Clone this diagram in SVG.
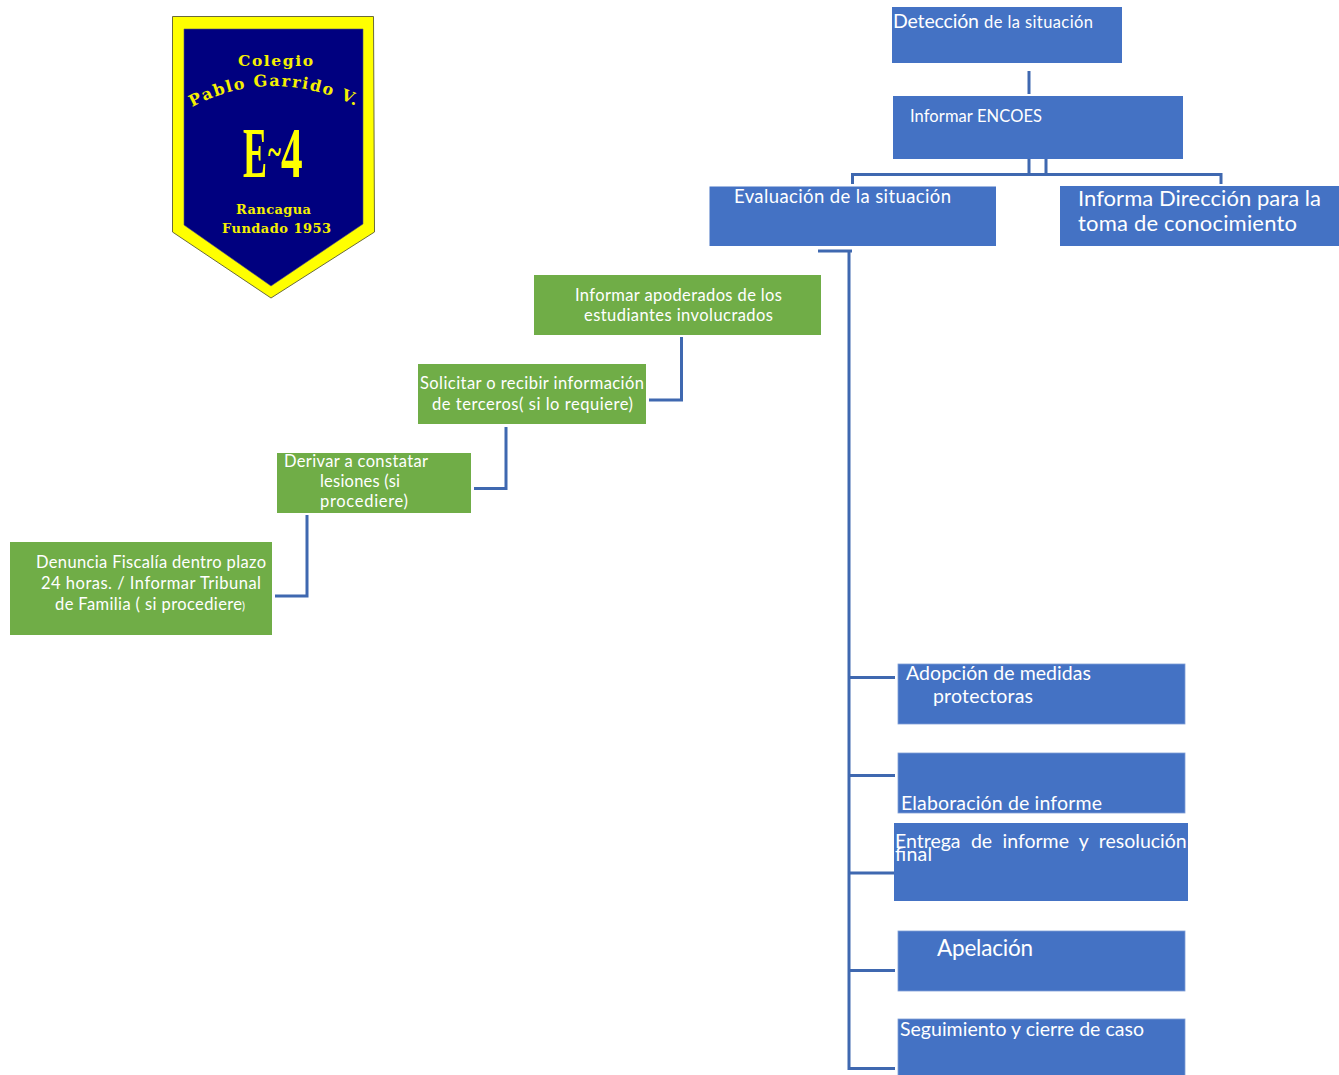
<svg xmlns="http://www.w3.org/2000/svg" width="1339" height="1075" viewBox="0 0 1339 1075">
<style>
.b{fill:#4472c4}.g{fill:#70ad47}
.e{stroke:#7f9fd6;stroke-width:0.8}
.edge{fill:none;stroke:#3f68b0;stroke-width:3}
text{font-family:Lato,"Open Sans","Liberation Sans",sans-serif;fill:#fff}
.s17{font-size:16.5px}.s19{font-size:18.5px}.s20{font-size:19.5px}.s22{font-size:22px}.s23{font-size:22.5px}
.l{font-family:"DejaVu Serif","Liberation Serif",serif;font-weight:bold;fill:#f5f000;font-size:13px}
.big{font-family:"Liberation Serif",serif;font-weight:bold;fill:#ffff00;font-size:72px}
</style>
<defs><path id="arc" d="M192,107 Q272,65 358,107"/></defs>
<rect width="1339" height="1075" fill="#fff"/>
<g id="logo">
<polygon points="172.500,16.500 373.500,16.500 374.500,232 271,298 172.500,232" fill="#ffff00" stroke="#6b6b3a" stroke-width="1"/>
<polygon points="184,29 363,29 363,224 271,286 184,225" fill="#00007f" stroke="#55557a" stroke-width="0.6"/>
<text class="l" x="238" y="66" textLength="75" style="font-size:15.500px">Colegio</text>
<text class="l" style="font-size:16px"><textPath href="#arc" textLength="170" lengthAdjust="spacing">Pablo Garrido V.</textPath></text>
<text class="big" transform="translate(243,177) scale(0.5,1)">E</text>
<text class="big" transform="translate(268,165) scale(0.62,1)" style="font-size:40px">~</text>
<text class="big" transform="translate(281,177) scale(0.6,1)">4</text>
<text class="l" x="236" y="214" textLength="75">Rancagua</text>
<text class="l" x="222" y="233" textLength="109">Fundado 1953</text>
</g>
<g id="connectors">
<path class="edge" d="M1029,71V94"/>
<path class="edge" d="M1029,159V174.500H1046V159"/>
<path class="edge" d="M852.500,184V174.500H1221V184"/>
<path class="edge" d="M818,251H852"/>
<path class="edge" d="M849,250V1068.500H895"/>
<path class="edge" d="M849,677.500H895M849,775.500H895M849,873H895M849,970.500H895"/>
<path class="edge" d="M681.500,337V400H649"/>
<path class="edge" d="M506,427V488.500H474"/>
<path class="edge" d="M307,515V596H275"/>
</g>
<g id="n-deteccion"><rect class="b" x="892" y="7" width="230" height="56"/>
<text x="893" y="28" class="s20" textLength="86">Detección</text><text x="984" y="28" class="s17" textLength="109">de la situación</text></g>
<g id="n-encoes"><rect class="b" x="893" y="96" width="290" height="63"/>
<text x="910" y="122" class="s17" textLength="132">Informar ENCOES</text></g>
<g id="n-evaluacion"><rect class="b" x="709.500" y="186.500" width="286.500" height="59.500"/>
<text x="734" y="203" class="s19" textLength="217">Evaluación de la situación</text></g>
<g id="n-direccion"><rect class="b" x="1060" y="186" width="279" height="60"/>
<text x="1078" y="205.500" class="s22" textLength="243">Informa Dirección para la</text>
<text x="1078" y="230.500" class="s22" textLength="219">toma de conocimiento</text></g>
<g id="n-apoderados"><rect class="g" x="534" y="275" width="287" height="60"/>
<text x="575" y="301" class="s17" textLength="207">Informar apoderados de los</text>
<text x="584" y="321" class="s17" textLength="189">estudiantes involucrados</text></g>
<g id="n-terceros"><rect class="g" x="418" y="364" width="228" height="60"/>
<text x="420" y="389" class="s17" textLength="224">Solicitar o recibir información</text>
<text x="432" y="410" class="s17" textLength="201">de terceros( si lo requiere)</text></g>
<g id="n-lesiones"><rect class="g" x="277" y="453" width="194" height="60"/>
<text x="284" y="467" class="s17" textLength="144">Derivar a constatar</text>
<text x="320" y="487" class="s17" textLength="80">lesiones (si</text>
<text x="320" y="507" class="s17" textLength="88">procediere)</text></g>
<g id="n-fiscalia"><rect class="g" x="10" y="542" width="262" height="93"/>
<text x="36" y="568" class="s17" textLength="230">Denuncia Fiscalía dentro plazo</text>
<text x="41" y="589" class="s17" textLength="220">24 horas. / Informar Tribunal</text>
<text x="55" y="610" class="s17" textLength="187">de Familia ( si procediere</text><text x="242" y="610" style="font-size:11px">)</text></g>
<g id="n-medidas"><rect class="b e" x="898" y="664" width="287" height="60"/>
<text x="906" y="680" class="s20" textLength="185">Adopción de medidas</text>
<text x="933" y="703" class="s20" textLength="100">protectoras</text></g>
<g id="n-informe"><rect class="b e" x="898" y="753" width="287" height="60"/>
<text x="901" y="810" class="s20" textLength="201">Elaboración de informe</text></g>
<g id="n-entrega"><rect class="b" x="894" y="823" width="294" height="78"/>
<text x="895" y="848" class="s20" style="word-spacing:5.400px">Entrega de informe y resolución</text>
<text x="895" y="861" class="s20" textLength="37">final</text></g>
<g id="n-apelacion"><rect class="b e" x="898" y="931" width="287" height="60"/>
<text x="937" y="956" class="s23" textLength="96">Apelación</text></g>
<g id="n-cierre"><rect class="b e" x="898" y="1019" width="287" height="57"/>
<text x="900" y="1036" class="s20" textLength="244">Seguimiento y cierre de caso</text></g>
</svg>
